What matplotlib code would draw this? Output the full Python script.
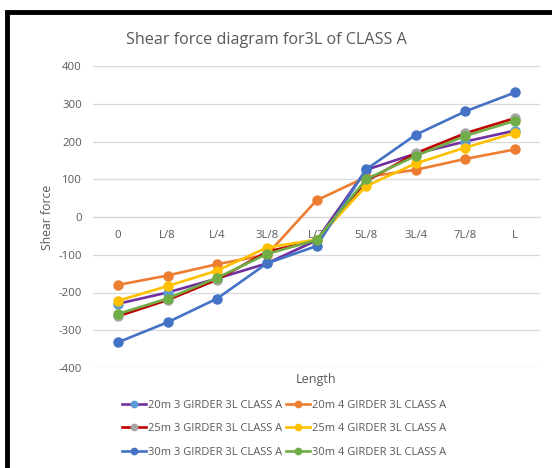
import matplotlib
matplotlib.use("Agg")
from matplotlib import pyplot as plt
from matplotlib.patches import Rectangle

# category positions along the span
positions = ["0", "L/8", "L/4", "3L/8", "L/2", "5L/8", "3L/4", "7L/8", "L"]

# shear force values
sf_20m_3 = [-230, -200, -163, -123, -62, 125, 168, 200, 229]
sf_20m_4 = [-180, -155, -125, -100, 44, 106, 125, 154, 179]
sf_25m_3 = [-263, -220, -166, -92, -62, 95, 169, 222, 262]
sf_25m_4 = [-222, -183, -142, -81, -60, 82, 142, 184, 223]
sf_30m_3 = [-332, -279, -216, -123, -77, 126, 218, 280, 330]
sf_30m_4 = [-257, -216, -161, -98, -61, 100, 162, 215, 255]

names = ["20m 3 GIRDER 3L CLASS A", "20m 4 GIRDER 3L CLASS A",
         "25m 3 GIRDER 3L CLASS A", "25m 4 GIRDER 3L CLASS A",
         "30m 3 GIRDER 3L CLASS A", "30m 4 GIRDER 3L CLASS A"]
series = [sf_20m_3, sf_20m_4, sf_25m_3, sf_25m_4, sf_30m_3, sf_30m_4]
line_colors = ["#7030A0", "#ED7D31", "#C00000", "#FFC000", "#4472C4", "#70AD47"]
marker_colors = ["#5B9BD5", "#ED7D31", "#A5A5A5", "#FFC000", "#4472C4", "#70AD47"]

plt.rcParams["font.family"] = ["Open Sans", "DejaVu Sans"]
plt.rcParams["axes.unicode_minus"] = False
text_gray = "#595959"

W, H = 552, 468
fig = plt.figure(figsize=(W / 100, H / 100), dpi=100)
ax = fig.add_axes([93 / W, 1 - 368 / H, (540 - 93) / W, (368 - 66) / H])

x = list(range(len(positions)))
handles = []
for vals, name, lc, mc in zip(series, names, line_colors, marker_colors):
    h, = ax.plot(x, vals, color=lc, lw=1.9, marker="o", markersize=6.5,
                 markerfacecolor=mc, markeredgecolor=mc, label=name, zorder=3)
    handles.append(h)

ax.set_ylim(-400, 400)
ax.set_xlim(-0.5, len(positions) - 0.5)
ax.set_yticks(range(-400, 401, 100))
ax.yaxis.grid(True, color="#D9D9D9", lw=0.9)
ax.set_axisbelow(True)
for side in ["top", "right", "left"]:
    ax.spines[side].set_visible(False)
ax.spines["bottom"].set_position(("data", 0))
ax.spines["bottom"].set_color("#D9D9D9")
ax.spines["bottom"].set_linewidth(0.9)
ax.set_xticks(x)
ax.set_xticklabels(positions)
ax.tick_params(axis="x", length=0, pad=9, labelsize=8.2, labelcolor=text_gray)
ax.tick_params(axis="y", length=0, pad=8, labelsize=8.2, labelcolor=text_gray)

ax.set_ylabel("Shear force", fontsize=8.8, color=text_gray, labelpad=3)
fig.text(316 / W, 1 - 380 / H, "Length", ha="center", va="center",
         fontsize=9, color=text_gray)
fig.text(266 / W, 1 - 40 / H, "Shear force diagram for3L of CLASS A",
         ha="center", va="center", fontsize=11.6, color=text_gray)

# legend reads row by row like the original, so reorder for column filling
order = [0, 2, 4, 1, 3, 5]
leg = fig.legend([handles[i] for i in order], [names[i] for i in order],
                 loc="upper center", bbox_to_anchor=(284 / W, 1 - 394 / H),
                 ncol=2, frameon=False, fontsize=8, handlelength=2.2,
                 handletextpad=0.2, columnspacing=0.3, labelspacing=1.15,
                 borderpad=0, markerscale=0.7)
for t in leg.get_texts():
    t.set_color(text_gray)

# black frame around the chart area
fig.patches.append(Rectangle((7 / W, -0.05), 1.1, 1 - 12 / H + 0.05,
                             transform=fig.transFigure, fill=False,
                             edgecolor="black", lw=3.5))

fig.savefig("out.png", dpi=100)
